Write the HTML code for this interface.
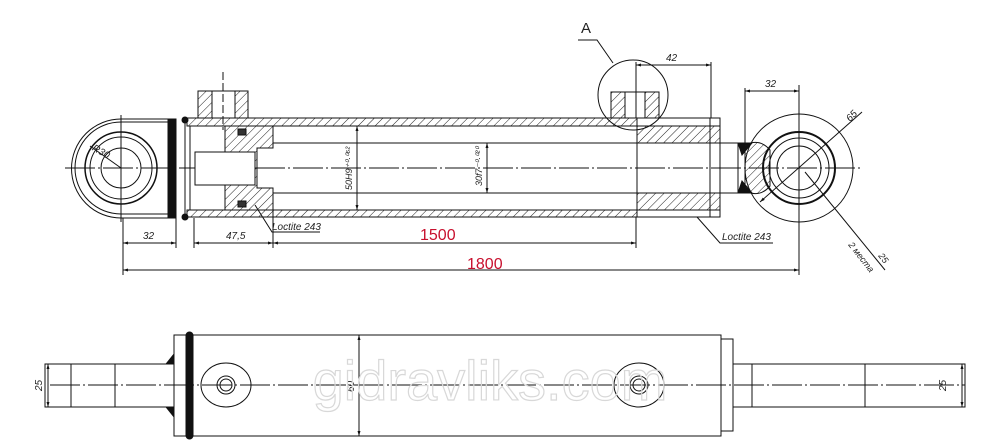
<!DOCTYPE html>
<html><head><meta charset="utf-8"><style>
html,body{margin:0;padding:0;background:#fff}
svg{display:block}
text{font-family:"Liberation Sans",sans-serif}
</style></head><body>
<svg width="1000" height="448" viewBox="0 0 1000 448" xmlns="http://www.w3.org/2000/svg">
<defs>
<pattern id="h" width="6" height="6" patternUnits="userSpaceOnUse" patternTransform="rotate(45)">
<line x1="0" y1="0" x2="0" y2="6" stroke="#222" stroke-width="1"/></pattern>
<marker id="a" viewBox="0 0 10 10" refX="10" refY="5" markerWidth="7" markerHeight="5" orient="auto-start-reverse"><path d="M0,2 L10,5 L0,8z" fill="#111"/></marker>
</defs>
<g stroke="#111" stroke-width="1" fill="none">
<!-- centerline -->
<line x1="65" y1="168" x2="860" y2="168" stroke-dasharray="30,3,2,3"/>
<!-- left eye -->
<path d="M168,119 L121,119 A49,49 0 0 0 121,218 L168,218"/>
<path d="M168,122 L121,122 A46,46 0 0 0 121,214 L168,214"/>
<circle cx="121" cy="168" r="36" stroke-width="1.5"/>
<circle cx="121" cy="168" r="31"/>
<circle cx="121" cy="168" r="20"/>
<line x1="121" y1="115" x2="121" y2="222"/>
<line x1="90" y1="146" x2="121" y2="168"/>
<text x="92" y="152" font-size="10" font-style="italic" fill="#222" stroke="none" transform="rotate(30 96 150)">R30</text>
<rect x="168" y="119" width="8" height="99" fill="#111"/>
<line x1="176" y1="119" x2="176" y2="218"/>
<circle cx="185" cy="120" r="3" fill="#111"/><circle cx="185" cy="217" r="3" fill="#111"/>
<line x1="185" y1="122" x2="185" y2="215"/><line x1="190" y1="126" x2="190" y2="210"/>
<!-- tube walls -->
<rect x="187" y="118" width="450" height="8" fill="url(#h)"/>
<rect x="187" y="210" width="450" height="7" fill="url(#h)"/>
<!-- left port -->
<rect x="198" y="91" width="14" height="27" fill="url(#h)"/>
<rect x="235" y="91" width="13" height="27" fill="url(#h)"/>
<rect x="212" y="91" width="23" height="27"/>
<line x1="223" y1="72" x2="223" y2="130" stroke-dasharray="8,3"/>
<!-- piston -->
<path d="M225,126 H273 V148 H257 V188 H273 V210 H225 Z" fill="url(#h)"/>
<rect x="195" y="152" width="60" height="33" fill="#fff"/>
<rect x="238" y="129" width="8" height="6" fill="#333"/><rect x="238" y="201" width="8" height="6" fill="#333"/>
<line x1="273" y1="143" x2="740" y2="143"/><line x1="273" y1="193" x2="740" y2="193"/>
<!-- dims inside -->
<line x1="357" y1="126" x2="357" y2="210" marker-start="url(#a)" marker-end="url(#a)"/>
<line x1="487" y1="143" x2="487" y2="193" marker-start="url(#a)" marker-end="url(#a)"/>
<text x="0" y="0" font-size="9" font-style="italic" fill="#222" stroke="none" transform="translate(352,190) rotate(-90)">50H9⁺⁰·⁰⁶²</text>
<text x="0" y="0" font-size="9" font-style="italic" fill="#222" stroke="none" transform="translate(482,186) rotate(-90)">30f7⁻⁰·⁰²⁰</text>
<!-- right gland -->
<path d="M637,126 H720 V143 H637 Z" fill="url(#h)"/>
<path d="M637,193 H720 V210 H637 Z" fill="url(#h)"/>
<rect x="637" y="118" width="83" height="99"/>
<line x1="710" y1="118" x2="710" y2="217"/>
<!-- right port -->
<rect x="611" y="92" width="14" height="26" fill="url(#h)"/>
<rect x="645" y="92" width="14" height="26" fill="url(#h)"/>
<rect x="625" y="92" width="20" height="26"/>
<circle cx="633" cy="95" r="35"/>
<text x="581" y="33" font-size="15" fill="#222" stroke="none">A</text>
<path d="M578,40 H597 L613,63"/>
<!-- rod end -->
<line x1="738" y1="143" x2="738" y2="193"/>
<path d="M738,143 L752,143 L742,155Z M738,193 L752,193 L742,181Z" fill="#111"/>
<path d="M745,145 Q760,138 770,150 L770,186 Q760,198 745,191 Z" fill="url(#h)"/>
<circle cx="799" cy="168" r="54"/>
<circle cx="799" cy="168" r="36" stroke-width="2"/>
<circle cx="799" cy="168" r="30"/>
<circle cx="799" cy="168" r="22"/>
<line x1="799" y1="85" x2="799" y2="275"/>
<line x1="862" y1="112" x2="760" y2="202" marker-end="url(#a)"/>
<text x="845" y="120" font-size="10" font-style="italic" fill="#222" stroke="none" transform="rotate(-45 850 115)">65</text>
<line x1="805" y1="172" x2="885" y2="270"/>
<text x="0" y="0" font-size="9" font-style="italic" fill="#222" stroke="none" transform="translate(848,245) rotate(52)">2 места</text>
<text x="0" y="0" font-size="9" font-style="italic" fill="#222" stroke="none" transform="translate(878,256) rotate(52)">25</text>
<!-- top dims -->
<line x1="636" y1="62" x2="636" y2="118"/><line x1="711" y1="62" x2="711" y2="118"/>
<line x1="636" y1="65" x2="711" y2="65" marker-start="url(#a)" marker-end="url(#a)"/>
<text x="666" y="61" font-size="10" font-style="italic" fill="#222" stroke="none">42</text>
<line x1="745" y1="88" x2="745" y2="145"/><line x1="799" y1="88" x2="799" y2="92"/>
<line x1="745" y1="91" x2="799" y2="91" marker-start="url(#a)" marker-end="url(#a)"/>
<text x="765" y="87" font-size="10" font-style="italic" fill="#222" stroke="none">32</text>
<!-- bottom dims -->
<line x1="123" y1="218" x2="123" y2="275"/><line x1="176" y1="218" x2="176" y2="248"/>
<line x1="123" y1="243" x2="176" y2="243" marker-start="url(#a)" marker-end="url(#a)"/>
<text x="143" y="239" font-size="10" font-style="italic" fill="#222" stroke="none">32</text>
<line x1="194" y1="218" x2="194" y2="248"/><line x1="273" y1="210" x2="273" y2="248"/>
<line x1="194" y1="243" x2="273" y2="243" marker-start="url(#a)" marker-end="url(#a)"/>
<text x="226" y="239" font-size="10" font-style="italic" fill="#222" stroke="none">47,5</text>
<line x1="636" y1="217" x2="636" y2="248"/>
<line x1="273" y1="243" x2="636" y2="243" marker-start="url(#a)" marker-end="url(#a)"/>
<line x1="123" y1="270" x2="799" y2="270" marker-start="url(#a)" marker-end="url(#a)"/>
<text x="420" y="240" font-size="16" fill="#c8102e" stroke="none">1500</text>
<text x="467" y="269" font-size="16" fill="#c8102e" stroke="none">1800</text>
<path d="M255,205 L272,232 H320"/>
<text x="272" y="230" font-size="10" font-style="italic" fill="#222" stroke="none">Loctite 243</text>
<path d="M697,217 L720,243 H773"/>
<text x="722" y="240" font-size="10" font-style="italic" fill="#222" stroke="none">Loctite 243</text>

<!-- bottom view -->
<line x1="50" y1="385" x2="965" y2="385" stroke-dasharray="30,3,2,3"/>
<rect x="174" y="335" width="547" height="101"/>
<rect x="186" y="332" width="7" height="107" rx="3.5" fill="#111"/>
<line x1="359" y1="335" x2="359" y2="436" marker-start="url(#a)" marker-end="url(#a)"/>
<text x="0" y="0" font-size="10" font-style="italic" fill="#222" stroke="none" transform="translate(354,392) rotate(-90)">60</text>
<rect x="721" y="339" width="12" height="92"/>
<rect x="45" y="364" width="129" height="43"/>
<line x1="71" y1="364" x2="71" y2="407"/><line x1="115" y1="364" x2="115" y2="407"/>
<path d="M166,364 L174,354 L174,364Z M166,407 L174,417 L174,407Z" fill="#111"/>
<rect x="733" y="364" width="232" height="43"/>
<line x1="752" y1="364" x2="752" y2="407"/><line x1="865" y1="364" x2="865" y2="407"/>
<ellipse cx="226" cy="385" rx="25" ry="22"/><circle cx="226" cy="385" r="9"/><circle cx="226" cy="385" r="6"/>
<ellipse cx="639" cy="385" rx="25" ry="22"/><circle cx="639" cy="385" r="9"/><circle cx="639" cy="385" r="6"/>
<line x1="48" y1="364" x2="48" y2="407" marker-start="url(#a)" marker-end="url(#a)"/>
<text x="0" y="0" font-size="10" font-style="italic" fill="#222" stroke="none" transform="translate(42,391) rotate(-90)">25</text>
<line x1="962" y1="364" x2="962" y2="407" marker-start="url(#a)" marker-end="url(#a)"/>
<text x="0" y="0" font-size="10" font-style="italic" fill="#222" stroke="none" transform="translate(946,391) rotate(-90)">25</text>
</g>
<text x="490" y="400" font-size="56" text-anchor="middle" fill="none" stroke="#d8d8d8" stroke-width="1.2">gidravliks.com</text>
</svg>
</body></html>
